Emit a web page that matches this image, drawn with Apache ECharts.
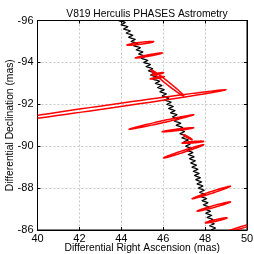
<!DOCTYPE html>
<html><head><meta charset="utf-8">
<script src="https://cdn.jsdelivr.net/npm/echarts@6/dist/echarts.min.js"></script>
<style>html,body{margin:0;padding:0;background:#fff}#c{width:254px;height:254px}</style>
</head><body><div id="c"></div>
<script>
// Orbit model curve (RA, Dec in mas)
const curveRA = [43.87,44.19,43.99,44.31,44.11,44.43,44.23,44.55,44.35,44.67,44.47,44.79,44.59,44.91,44.71,45.03,44.83,45.15,44.95,45.27,
45.07,45.39,45.18,45.50,45.29,45.61,45.40,45.72,45.51,45.83,45.62,45.94,45.73,46.05,45.84,46.16,45.95,46.27,46.06,46.38,
46.17,46.48,46.26,46.57,46.35,46.66,46.44,46.75,46.53,46.84,46.62,46.93,46.71,47.02,46.80,47.11,46.89,47.20,46.98,47.29,
47.07,47.36,47.13,47.42,47.19,47.48,47.25,47.54,47.31,47.60,47.37,47.66,47.43,47.72,47.49,47.78,47.55,47.84,47.61,47.90,
47.67,47.96,47.73,48.02,47.79,48.08,47.85,48.14,47.91,48.20,47.97,48.26,48.03,48.32,48.09,48.38,48.15,48.44,48.21,48.50,48.27];
const curveDec = [-96.0,-95.9,-95.8,-95.7,-95.6,-95.5,-95.4,-95.3,-95.2,-95.1,-95.0,-94.9,-94.8,-94.7,-94.6,-94.5,-94.4,-94.3,-94.2,-94.1,
-94.0,-93.9,-93.8,-93.7,-93.6,-93.5,-93.4,-93.3,-93.2,-93.1,-93.0,-92.9,-92.8,-92.7,-92.6,-92.5,-92.4,-92.3,-92.2,-92.1,
-92.0,-91.9,-91.8,-91.7,-91.6,-91.5,-91.4,-91.3,-91.2,-91.1,-91.0,-90.9,-90.8,-90.7,-90.6,-90.5,-90.4,-90.3,-90.2,-90.1,
-90.0,-89.9,-89.8,-89.7,-89.6,-89.5,-89.4,-89.3,-89.2,-89.1,-89.0,-88.9,-88.8,-88.7,-88.6,-88.5,-88.4,-88.3,-88.2,-88.1,
-88.0,-87.9,-87.8,-87.7,-87.6,-87.5,-87.4,-87.3,-87.2,-87.1,-87.0,-86.9,-86.8,-86.7,-86.6,-86.5,-86.4,-86.3,-86.2,-86.1,-86.0];

// Error ellipses: major-axis end points (mas) and minor semi-axis (mas)
const ellRA1  = [44.27, 44.67, 45.46, 45.38, 45.42, 37.25, 44.38, 45.95, 46.96, 46.90, 46.02, 47.38, 47.62, 48.01, 48.54];
const ellDec1 = [-94.83,-94.21,-93.40,-93.21,-93.64,-91.01,-90.81,-90.69,-90.55,-90.15,-89.44,-87.49,-86.90,-86.34,-85.74];
const ellRA2  = [45.54, 45.96, 46.02, 46.05, 46.98, 48.97, 47.45, 47.45, 47.38, 47.93, 47.93, 49.21, 49.21, 49.05, 50.65];
const ellDec2 = [-94.99,-94.45,-93.51,-93.32,-92.40,-92.69,-91.50,-90.88,-90.31,-90.23,-90.07,-88.09,-87.34,-86.58,-86.41];
const ellMinor= [0.045, 0.035, 0.03, 0.03, 0.07, 0.08, 0.045, 0.035, 0.03, 0.035, 0.045, 0.045, 0.045, 0.04, 0.045];

const xTicks = [40, 50, 2];
const yTicks = [-96, -86, 2];

const curveData = curveRA.map((v, i) => [v, curveDec[i]]);
const ellData = ellRA1.map((v, i) => [v, ellDec1[i], ellRA2[i], ellDec2[i], ellMinor[i]]);

const FONT = 'Liberation Sans';
const chart = echarts.init(document.getElementById('c'), null, {renderer: 'canvas'});
const axisCommon = {
  axisLine: {show: true, lineStyle: {color: '#000', width: 1}},
  axisTick: {show: true, inside: true, length: 3, lineStyle: {color: '#000'}},
};
chart.setOption({
  animation: false,
  backgroundColor: '#fff',
  title: {text: 'V819 Herculis PHASES Astrometry', left: 142, top: 4, textAlign: 'center',
    textStyle: {fontFamily: FONT, fontSize: 10.3, fontWeight: 'normal', color: '#000'}},
  grid: {left: 37.5, right: 7, top: 20.5, bottom: 24, show: true, borderColor: '#000', borderWidth: 1,
    containLabel: false, outerBoundsMode: 'none'},
  xAxis: [
    Object.assign({type: 'value', min: xTicks[0], max: xTicks[1], interval: xTicks[2], position: 'bottom',
      name: 'Differential Right Ascension (mas)', nameLocation: 'middle', nameGap: 13, nameMoveOverlap: false,
      nameTextStyle: {fontFamily: FONT, fontSize: 10.3, color: '#000'},
      axisLabel: {fontFamily: FONT, fontSize: 11, color: '#000', margin: 3},
      splitLine: {show: true, lineStyle: {color: '#c8c8c8', type: [2, 2], width: 1}}}, axisCommon),
    Object.assign({type: 'value', min: xTicks[0], max: xTicks[1], interval: xTicks[2], position: 'top',
      axisLabel: {show: false}, splitLine: {show: false}}, axisCommon)
  ],
  yAxis: [
    Object.assign({type: 'value', min: yTicks[0], max: yTicks[1], interval: yTicks[2], inverse: true, position: 'left',
      name: 'Differential Declination (mas)', nameLocation: 'middle', nameGap: 22, nameMoveOverlap: false,
      nameTextStyle: {fontFamily: FONT, fontSize: 10.3, color: '#000'},
      axisLabel: {fontFamily: FONT, fontSize: 11, color: '#000', margin: 4},
      splitLine: {show: true, lineStyle: {color: '#c8c8c8', type: [2, 2], width: 1}}}, axisCommon),
    Object.assign({type: 'value', min: yTicks[0], max: yTicks[1], interval: yTicks[2], inverse: true, position: 'right',
      axisLabel: {show: false}, splitLine: {show: false}}, axisCommon)
  ],
  series: [
    {type: 'line', data: curveData, symbol: 'none', smooth: 0.2, clip: true,
      lineStyle: {color: '#000', width: 1.3}, z: 2},
    {type: 'custom', data: ellData, clip: true, z: 3,
      encode: {x: [0, 2], y: [1, 3]},
      renderItem: function (params, api) {
        const a1 = api.value(0), d1 = api.value(1), a2 = api.value(2), d2 = api.value(3), m = api.value(4);
        const cx = (a1 + a2) / 2, cy = (d1 + d2) / 2;
        const ux = (a2 - a1) / 2, uy = (d2 - d1) / 2;
        const L = Math.sqrt(ux * ux + uy * uy);
        const vx = -uy / L * m, vy = ux / L * m;
        const pts = [];
        for (let k = 0; k < 90; k++) {
          const t = k / 90 * Math.PI * 2;
          pts.push(api.coord([cx + Math.cos(t) * ux + Math.sin(t) * vx, cy + Math.cos(t) * uy + Math.sin(t) * vy]));
        }
        const cs = params.coordSys;
        return {type: 'polygon', shape: {points: pts},
          clipPath: {type: 'rect', shape: {x: cs.x, y: cs.y, width: cs.width, height: cs.height}},
          style: {fill: 'none', stroke: '#ff0000', lineWidth: 1.5}};
      }}
  ]
});
</script></body></html>
